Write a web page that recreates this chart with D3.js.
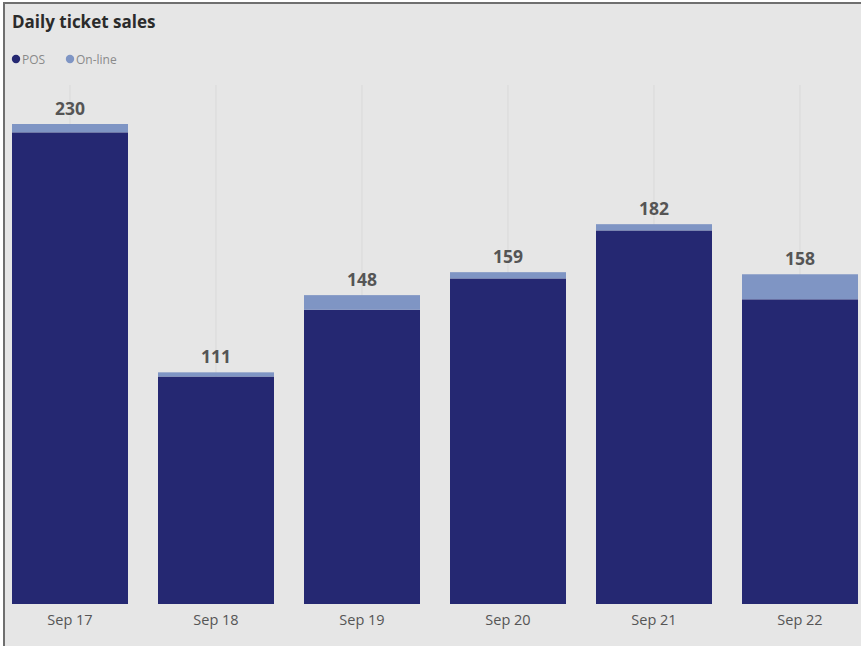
<!DOCTYPE html>
<html>
<head>
<meta charset="utf-8">
<script src="https://cdn.jsdelivr.net/npm/d3@7"></script>
<style>
  html, body { margin: 0; padding: 0; background: #ffffff; }
  svg { display: block; }
</style>
</head>
<body>
<svg id="chart" width="861" height="646"></svg>
<script>
// Daily ticket sales, stacked by channel
const days = ["Sep 17", "Sep 18", "Sep 19", "Sep 20", "Sep 21", "Sep 22"];
const posSales = [226, 109, 141, 156, 179, 146];
const onlineSales = [4, 2, 7, 3, 3, 12];
const seriesNames = ["POS", "On-line"];
const seriesColors = ["#252872", "#7f95c4"];

const W = 861, H = 646;
const svg = d3.select("#chart");

// card background with a thin border on the top and left
svg.append("rect").attr("x", 0).attr("y", 0).attr("width", W).attr("height", H).attr("fill", "#ffffff");
svg.append("rect").attr("x", 4).attr("y", 3).attr("width", W + 10).attr("height", H + 10)
  .attr("fill", "#e6e6e6").attr("stroke", "#6f6f6f").attr("stroke-width", 2);

// title
svg.append("text").attr("x", 12).attr("y", 28)
  .attr("font-family", "'Open Sans', sans-serif").attr("font-weight", 700)
  .attr("font-size", 17).attr("fill", "#2b2b2b").text("Daily ticket sales");

// legend
const legend = svg.append("g").attr("font-family", "'Open Sans', sans-serif").attr("font-size", 12);
const legendX = [16, 70];
seriesNames.forEach((name, i) => {
  legend.append("circle").attr("cx", legendX[i]).attr("cy", 59).attr("r", 4.2).attr("fill", seriesColors[i]);
  legend.append("text").attr("x", legendX[i] + 6).attr("y", 63.5).attr("fill", "#8a8a8a").text(name);
});

// scales
const table = days.map((d, i) => ({ day: d, POS: posSales[i], "On-line": onlineSales[i] }));
const totals = table.map(r => r.POS + r["On-line"]);

const x = d3.scaleBand().domain(days).range([12, 858]).paddingInner(30 / 146).paddingOuter(0);
const y = d3.scaleLinear().domain([0, 230]).range([604, 124]);

// faint vertical grid lines at category centres
svg.append("g").selectAll("line").data(days).join("line")
  .attr("x1", d => x(d) + x.bandwidth() / 2).attr("x2", d => x(d) + x.bandwidth() / 2)
  .attr("y1", 85).attr("y2", 604)
  .attr("stroke", "#d9d9d9").attr("stroke-width", 1);

// stacked bars
const stack = d3.stack().keys(seriesNames)(table);
svg.append("g").selectAll("g").data(stack).join("g")
  .attr("fill", (s, i) => seriesColors[i])
  .selectAll("rect").data(s => s).join("rect")
  .attr("x", d => x(d.data.day))
  .attr("width", x.bandwidth())
  .attr("y", d => y(d[1]))
  .attr("height", d => y(d[0]) - y(d[1]));

// total labels
svg.append("g").selectAll("text").data(days).join("text")
  .attr("x", (d) => x(d) + x.bandwidth() / 2)
  .attr("y", (d, i) => y(totals[i]) - 9)
  .attr("text-anchor", "middle")
  .attr("font-family", "'Open Sans', sans-serif").attr("font-weight", 700)
  .attr("font-size", 17.5).attr("fill", "#555555")
  .text((d, i) => totals[i]);

// category axis
const xAxis = svg.append("g").attr("transform", "translate(0,604)")
  .call(d3.axisBottom(x).tickSize(0).tickPadding(11));
xAxis.select(".domain").remove();
xAxis.selectAll("text")
  .attr("font-family", "'Open Sans', sans-serif").attr("font-size", 14.5).attr("fill", "#555555");
</script>
</body>
</html>
